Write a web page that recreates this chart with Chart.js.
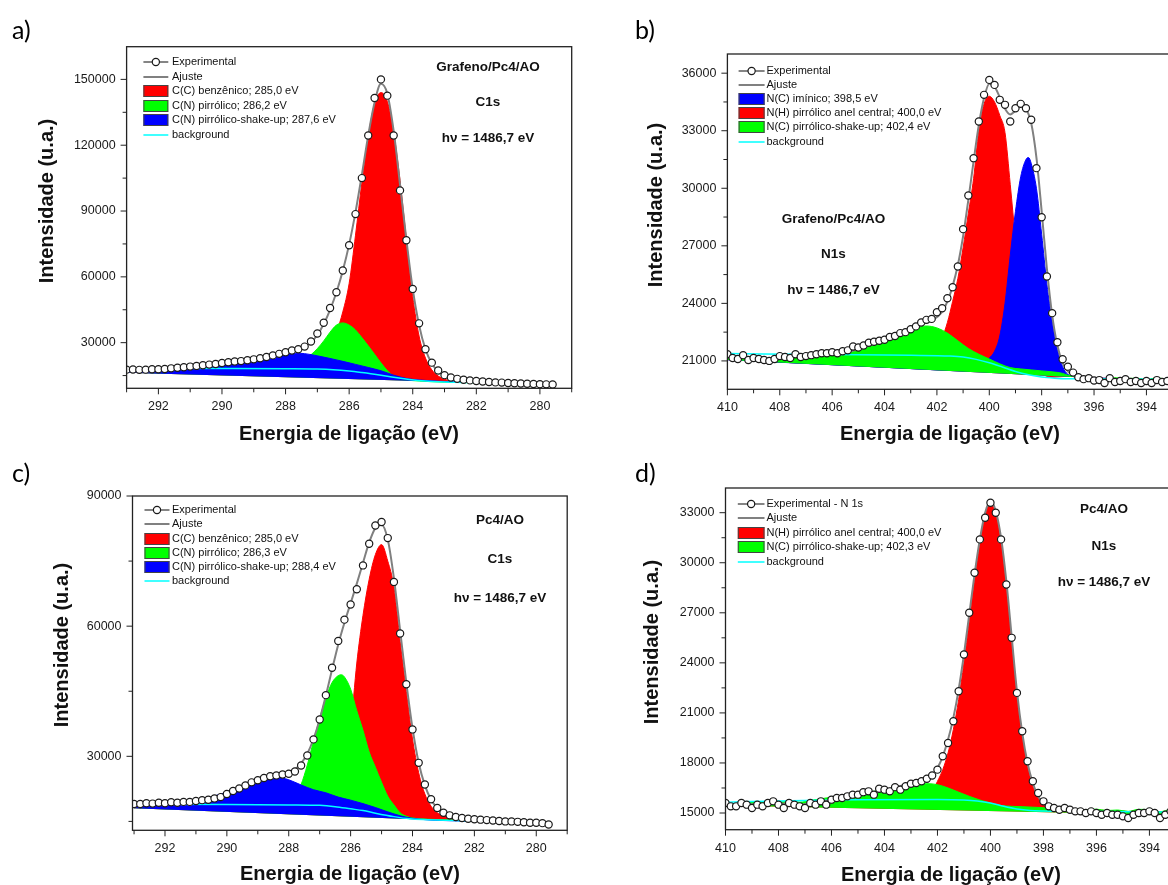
<!DOCTYPE html>
<html lang="pt">
<head>
<meta charset="utf-8">
<title>XPS C1s / N1s - Grafeno/Pc4/AO e Pc4/AO</title>
<script src="https://cdn.jsdelivr.net/npm/chart.js@4.4.1/dist/chart.umd.min.js"></script>
<style>
  html, body { margin: 0; padding: 0; background: #fff; overflow: hidden; }
  body { width: 1168px; height: 885px; position: relative; }
  .panel { position: absolute; }
  .tag { position: absolute; font-family: Lato, "Open Sans", sans-serif; font-size: 25px; line-height: 1; color: #000; }
</style>
</head>
<body>
<div class="panel" style="left:0;top:0"><canvas id="chartA" width="584" height="462"></canvas></div>
<div class="panel" style="left:584px;top:0"><canvas id="chartB" width="640" height="462"></canvas></div>
<div class="panel" style="left:0;top:442px"><canvas id="chartC" width="584" height="443"></canvas></div>
<div class="panel" style="left:584px;top:442px"><canvas id="chartD" width="640" height="443"></canvas></div>
<div class="tag" style="left:12px;top:17px">a)</div>
<div class="tag" style="left:635px;top:17px">b)</div>
<div class="tag" style="left:12px;top:460px">c)</div>
<div class="tag" style="left:635px;top:460px">d)</div>

<script>
// ================== DATA (energia em eV, intensidade em u.a.) ==================

// ---- a) Grafeno/Pc4/AO  C1s ----
const aExp = [
  [293.0,17700],[292.8,17800],[292.6,17600],[292.4,17700],[292.2,17900],[292.0,17900],[291.8,18000],
  [291.6,18300],[291.4,18600],[291.2,18800],[291.0,19100],[290.8,19400],[290.6,19700],[290.4,20000],
  [290.2,20300],[290.0,20700],[289.8,21100],[289.6,21400],[289.4,21600],[289.2,22000],[289.0,22400],
  [288.8,22900],[288.6,23500],[288.4,24200],[288.2,24900],[288.0,25600],[287.8,26400],[287.6,27000],
  [287.4,28200],[287.2,30500],[287.0,34200],[286.8,39100],[286.6,45800],[286.4,53000],[286.2,62900],
  [286.0,74400],[285.8,88600],[285.6,105000],[285.4,124400],[285.2,141500],[285.0,150000],[284.8,142600],
  [284.6,124400],[284.4,99400],[284.2,76700],[284.0,54500],[283.8,38800],[283.6,27000],[283.4,20900],
  [283.2,17300],[283.0,15200],[282.8,14100],[282.6,13500],[282.4,13100],[282.2,12800],[282.0,12500],
  [281.8,12300],[281.6,12100],[281.4,11900],[281.2,11800],[281.0,11600],[280.8,11500],[280.6,11400],
  [280.4,11300],[280.2,11200],[280.0,11100],[279.8,11000],[279.6,10900]
];
const aFit = [
  [293.0,17800],[292.0,18000],[291.0,19000],[290.5,19800],[290.0,20600],[289.5,21400],[289.0,22400],
  [288.5,23700],[288.0,25300],[287.6,26900],[287.4,28200],[287.2,30200],[287.0,33500],[286.8,38500],
  [286.6,45000],[286.4,53000],[286.2,62800],[286.0,74800],[285.8,89500],[285.6,106500],[285.4,124500],
  [285.2,139500],[285.0,148000],[284.8,143500],[284.6,126500],[284.4,102000],[284.2,77000],[284.0,54500],
  [283.8,38000],[283.6,27000],[283.4,20500],[283.2,17000],[283.0,15100],[282.6,13400],[282.0,12400],
  [281.0,11600],[280.0,11100],[279.6,10900]
];
const aRed = [
  [293.0,17100],[290.0,17200],[288.0,17300],[287.0,18500],[286.8,21000],[286.6,26500],[286.4,34500],
  [286.2,44000],[286.0,57000],[285.8,79000],[285.6,103000],[285.4,124000],[285.2,139000],[285.0,144000],
  [284.8,140000],[284.6,126000],[284.4,104000],[284.2,77000],[284.0,51000],[283.8,33000],[283.6,23000],
  [283.4,17600],[283.2,14800],[283.0,13300],[282.6,12300],[282.0,11800],[281.0,11400],[279.6,10950]
];
const aGreen = [
  [293.0,17100],[290.0,17300],[289.0,17700],[288.5,18400],[288.0,19400],[287.6,21000],[287.4,22500],
  [287.2,24500],[287.0,27300],[286.8,30800],[286.6,34800],[286.4,38000],[286.2,39000],[286.0,38000],
  [285.8,35800],[285.6,32300],[285.4,28600],[285.2,24700],[285.0,20800],[284.8,17300],[284.6,14700],
  [284.4,13400],[284.0,12700],[283.0,12000],[281.0,11400],[279.6,10950]
];
const aBlue = [
  [293.0,18000],[292.0,18200],[291.0,19000],[290.5,19700],[290.0,20400],[289.5,21200],[289.0,22200],
  [288.5,23400],[288.0,24600],[287.7,25200],[287.4,25000],[287.0,24000],[286.6,22800],[286.2,21500],
  [285.8,20100],[285.4,18700],[285.0,17200],[284.6,15200],[284.2,13700],[283.8,13000],[283.4,12600],
  [283.0,12300],[282.0,11900],[281.0,11500],[279.6,10950]
];
const aBg = [
  [293.0,18300],[290.0,18250],[288.0,18150],[287.0,18000],[286.5,17700],[286.0,17100],[285.6,16400],
  [285.1,15400],[284.6,14200],[284.1,13200],[283.6,12500],[283.0,12100],[282.0,11800],[281.0,11500],
  [279.6,11100]
];
const aBase = [[293.0,16300],[279.6,10850]];
const aXTicks = [292, 290, 288, 286, 284, 282, 280];
const aYTicks = [30000, 60000, 90000, 120000, 150000];

// ---- b) Grafeno/Pc4/AO  N1s ----
const bExp = [
  [410.0,21350],[409.8,21150],[409.6,21100],[409.4,21300],[409.2,21050],[409.0,21150],[408.8,21100],
  [408.6,21050],[408.4,21000],[408.2,21100],[408.0,21250],[407.8,21200],[407.6,21150],[407.4,21350],
  [407.2,21200],[407.0,21250],[406.8,21300],[406.6,21350],[406.4,21400],[406.2,21400],[406.0,21450],
  [405.8,21400],[405.6,21500],[405.4,21550],[405.2,21750],[405.0,21700],[404.8,21800],[404.6,21950],
  [404.4,22000],[404.2,22050],[404.0,22100],[403.8,22250],[403.6,22300],[403.4,22450],[403.2,22500],
  [403.0,22650],[402.8,22800],[402.6,23000],[402.4,23140],[402.2,23190],[402.0,23540],[401.8,23750],
  [401.6,24270],[401.4,24840],[401.2,25920],[401.0,27870],[400.8,29620],[400.6,31570],[400.4,33480],
  [400.2,34870],[400.0,35650],[399.8,35390],[399.6,34610],[399.4,34350],[399.2,33480],[399.0,34170],
  [398.8,34400],[398.6,34170],[398.4,33570],[398.2,31050],[398.0,28490],[397.8,25400],[397.6,23490],
  [397.4,21970],[397.2,21090],[397.0,20700],[396.8,20390],[396.6,20150],[396.4,20050],[396.2,20100],
  [396.0,19980],[395.8,20000],[395.6,19850],[395.4,20100],[395.2,19900],[395.0,19950],[394.8,20050],
  [394.6,19900],[394.4,19950],[394.2,19850],[394.0,19950],[393.8,19850],[393.6,20000],[393.4,19900],
  [393.2,19950],[393.0,19900],[392.8,19950],[392.6,19850],[392.4,19900],[392.2,19950],[392.0,19900]
];
const bFit = [
  [410.0,21350],[409.6,21200],[409.2,21150],[408.8,21200],[408.4,21100],[408.0,21250],[407.6,21200],
  [407.2,21250],[406.8,21300],[406.4,21350],[406.0,21400],[405.5,21450],[405.0,21600],[404.5,21850],
  [404.0,22100],[403.5,22400],[403.0,22700],[402.6,22900],[402.2,23100],[401.8,23550],[401.6,24100],
  [401.4,24900],[401.2,26000],[401.0,27500],[400.8,29400],[400.6,31400],[400.4,33300],[400.2,34700],
  [400.0,35450],[399.8,35300],[399.6,34750],[399.4,34150],[399.2,33850],[399.0,34050],[398.8,34300],
  [398.6,34150],[398.4,33400],[398.2,31600],[398.0,28800],[397.8,25800],[397.6,23400],[397.4,21800],
  [397.2,20900],[397.0,20450],[396.8,20250],[396.6,20150],[396.4,20100],[396.2,20150],[396.0,20050],
  [395.8,20100],[395.6,19950],[395.4,20150],[395.2,20000],[395.0,20050],[394.8,20100],[394.6,20000],
  [394.4,20050],[394.2,19950],[394.0,20050],[393.8,19950],[393.6,20100],[393.4,20000],[393.2,20050],
  [393.0,20000],[392.6,19950],[392.0,20000]
];
const bBlue = [
  [410.0,21060],[406.0,20800],[403.0,20600],[402.0,20530],[401.0,20480],[400.4,20800],[400.0,21150],
  [399.8,21500],[399.6,22300],[399.4,24000],[399.2,26500],[399.0,28800],[398.8,30600],[398.6,31500],
  [398.5,31600],[398.4,31300],[398.2,30000],[398.0,27600],[397.8,25000],[397.6,23100],[397.4,21600],
  [397.2,20700],[397.0,20300],[396.8,20200],[396.4,20150],[395.0,20060],[392.0,19850]
];
const bRed = [
  [410.0,21070],[406.0,20900],[404.0,20900],[403.0,21000],[402.4,21300],[402.0,21750],[401.8,22200],
  [401.6,23000],[401.4,24100],[401.2,25300],[401.0,26900],[400.8,28700],[400.6,30500],[400.4,33000],
  [400.2,34400],[400.0,34800],[399.8,34500],[399.6,33800],[399.4,32900],[399.2,30200],[399.0,27300],
  [398.8,24500],[398.6,22600],[398.4,21400],[398.2,20700],[398.0,20350],[397.6,20150],[397.0,20200],
  [396.0,20120],[392.0,19860]
];
const bGreen = [
  [410.0,21350],[409.6,21200],[409.2,21150],[408.8,21200],[408.4,21100],[408.0,21250],[407.6,21200],
  [407.2,21250],[406.8,21300],[406.4,21350],[406.0,21380],[405.6,21450],[405.2,21550],[404.8,21650],
  [404.4,21800],[404.0,22000],[403.6,22250],[403.2,22500],[402.8,22700],[402.4,22820],[402.0,22720],
  [401.6,22450],[401.2,22050],[400.8,21650],[400.4,21350],[400.0,21100],[399.6,20850],[399.2,20650],
  [398.8,20580],[398.4,20530],[398.0,20480],[397.6,20430],[397.2,20350],[397.0,20250],[396.8,20200],
  [396.4,20130],[396.0,20080],[395.6,20000],[395.2,20120],[394.8,20080],[394.4,20100],[394.0,20020],
  [393.6,20120],[393.2,20050],[392.8,20080],[392.4,20030],[392.0,20050]
];
const bBg = [
  [410.0,21380],[406.0,21330],[403.0,21290],[401.5,21250],[401.0,21200],[400.5,21080],[400.0,20900],
  [399.5,20680],[399.0,20450],[398.5,20280],[398.0,20160],[397.5,20100],[397.0,20070],[392.0,20040]
];
const bBase = [[410.0,21050],[392.0,19840]];
const bXTicks = [410, 408, 406, 404, 402, 400, 398, 396, 394, 392];
const bYTicks = [21000, 24000, 27000, 30000, 33000, 36000];

// ---- c) Pc4/AO  C1s ----
const cExp = [
  [293.0,19000],[292.8,19000],[292.6,19200],[292.4,19100],[292.2,19300],[292.0,19200],[291.8,19400],
  [291.6,19300],[291.4,19500],[291.2,19500],[291.0,19700],[290.8,19900],[290.6,20000],[290.4,20300],
  [290.2,20600],[290.0,21300],[289.8,22000],[289.6,22600],[289.4,23300],[289.2,24000],[289.0,24500],
  [288.8,25000],[288.6,25400],[288.4,25600],[288.2,25800],[288.0,26000],[287.8,26500],[287.6,27900],
  [287.4,30200],[287.2,33900],[287.0,38500],[286.8,44100],[286.6,50400],[286.4,56600],[286.2,61500],
  [286.0,65000],[285.8,68500],[285.6,74000],[285.4,79000],[285.2,83200],[285.0,84000],[284.8,80300],
  [284.6,70200],[284.4,58300],[284.2,46600],[284.0,36200],[283.8,28500],[283.6,23500],[283.4,20100],
  [283.2,18100],[283.0,17000],[282.8,16400],[282.6,16000],[282.4,15800],[282.2,15600],[282.0,15500],
  [281.8,15400],[281.6,15300],[281.4,15200],[281.2,15100],[281.0,15000],[280.8,15000],[280.6,14900],
  [280.4,14800],[280.2,14700],[280.0,14700],[279.8,14600],[279.6,14300]
];
const cFit = [
  [293.0,19000],[292.0,19250],[291.0,19700],[290.5,20200],[290.0,21100],[289.5,22700],[289.0,24300],
  [288.6,25200],[288.2,25800],[288.0,26200],[287.8,27000],[287.6,28400],[287.4,30600],[287.2,34000],
  [287.0,38500],[286.8,44000],[286.6,50000],[286.4,55800],[286.2,60800],[286.0,65300],[285.8,69800],
  [285.6,74600],[285.4,79300],[285.2,82600],[285.0,83400],[284.8,80000],[284.6,71000],[284.4,59000],
  [284.2,47000],[284.0,36500],[283.8,28500],[283.6,23300],[283.4,20000],[283.2,18100],[283.0,17000],
  [282.6,16000],[282.0,15500],[281.0,15000],[280.0,14650],[279.6,14400]
];
const cRed = [
  [293.0,18250],[289.0,17700],[287.5,17300],[287.0,17500],[286.6,18800],[286.4,21500],[286.2,27500],
  [286.0,36500],[285.8,51500],[285.6,62500],[285.4,70800],[285.2,76500],[285.0,78800],[284.8,75000],
  [284.6,69000],[284.4,56500],[284.2,45000],[284.0,34000],[283.8,26200],[283.6,21300],[283.4,18500],
  [283.2,17000],[283.0,16300],[282.6,15800],[282.0,15500],[281.0,15000],[279.6,14400]
];
const cGreen = [
  [293.0,18250],[290.0,18000],[289.0,18000],[288.5,18300],[288.0,19300],[287.8,20800],[287.6,23500],
  [287.4,28000],[287.2,33500],[287.0,38800],[286.8,43500],[286.6,47000],[286.4,48600],[286.3,48800],
  [286.2,48300],[286.0,45500],[285.8,40500],[285.6,36000],[285.4,31000],[285.2,27500],[285.0,24000],
  [284.8,20800],[284.6,18800],[284.4,17000],[284.2,16200],[284.0,15800],[283.5,15500],[283.0,15400],
  [279.6,14400]
];
const cBlue = [
  [293.0,19100],[292.0,19300],[291.0,19900],[290.5,20700],[290.0,21700],[289.5,23000],[289.0,24300],
  [288.5,25200],[288.2,25000],[288.0,24600],[287.6,23400],[287.2,22300],[286.8,21600],[286.4,20600],
  [286.0,19900],[285.6,19100],[285.2,18200],[284.8,17200],[284.4,16300],[284.0,15700],[283.5,15350],
  [283.0,15200],[282.0,15000],[281.0,14800],[279.6,14400]
];
const cBg = [
  [293.0,19000],[290.0,18900],[288.0,18800],[287.0,18700],[286.5,18400],[286.0,17900],[285.6,17500],
  [285.2,16900],[284.6,16100],[284.1,15600],[283.5,15400],[282.0,15100],[281.0,14850],[279.6,14550]
];
const cBase = [[293.0,18050],[279.6,14300]];
const cXTicks = [292, 290, 288, 286, 284, 282, 280];
const cYTicks = [30000, 60000, 90000];

// ---- d) Pc4/AO  N1s ----
const dExp = [
  [410.0,15600],[409.8,15400],[409.6,15400],[409.4,15600],[409.2,15500],[409.0,15300],[408.8,15500],
  [408.6,15400],[408.4,15600],[408.2,15700],[408.0,15500],[407.8,15300],[407.6,15600],[407.4,15500],
  [407.2,15400],[407.0,15300],[406.8,15600],[406.6,15500],[406.4,15700],[406.2,15500],[406.0,15800],
  [405.8,15900],[405.6,15900],[405.4,16000],[405.2,16100],[405.0,16100],[404.8,16250],[404.6,16300],
  [404.4,16100],[404.2,16450],[404.0,16400],[403.8,16300],[403.6,16550],[403.4,16400],[403.2,16600],
  [403.0,16750],[402.8,16800],[402.6,16900],[402.4,17050],[402.2,17250],[402.0,17600],[401.8,18400],
  [401.6,19200],[401.4,20500],[401.2,22300],[401.0,24500],[400.8,27000],[400.6,29400],[400.4,31400],
  [400.2,32700],[400.0,33600],[399.8,33000],[399.6,31400],[399.4,28700],[399.2,25500],[399.0,22200],
  [398.8,19900],[398.6,18100],[398.4,16900],[398.2,16200],[398.0,15700],[397.8,15400],[397.6,15300],
  [397.4,15200],[397.2,15300],[397.0,15200],[396.8,15100],[396.6,15100],[396.4,15000],[396.2,15100],
  [396.0,15000],[395.8,14900],[395.6,15000],[395.4,14900],[395.2,14900],[395.0,14800],[394.8,14700],
  [394.6,14900],[394.4,15000],[394.2,15000],[394.0,15100],[393.8,15000],[393.6,14700],[393.4,14900],
  [393.2,15100],[393.0,15000],[392.8,15000],[392.6,14900],[392.4,15000],[392.2,15100],[392.0,15000]
];
const dFit = [
  [410.0,15600],[409.6,15450],[409.2,15550],[408.8,15500],[408.4,15600],[408.0,15550],[407.6,15600],
  [407.2,15500],[406.8,15600],[406.4,15700],[406.0,15750],[405.6,15850],[405.2,15950],[404.8,16100],
  [404.4,16250],[404.0,16400],[403.6,16550],[403.2,16700],[402.8,16850],[402.4,17050],[402.2,17300],
  [402.0,17700],[401.8,18400],[401.6,19400],[401.4,20700],[401.2,22400],[401.0,24500],[400.8,26900],
  [400.6,29300],[400.4,31400],[400.2,33000],[400.0,33700],[399.8,33100],[399.6,31500],[399.4,28900],
  [399.2,25600],[399.0,22300],[398.8,19800],[398.6,18000],[398.4,16800],[398.2,16000],[398.0,15600],
  [397.8,15400],[397.6,15300],[397.2,15300],[396.8,15150],[396.4,15050],[396.0,15100],[395.6,15000],
  [395.2,14950],[394.8,14850],[394.4,15050],[394.0,15100],[393.6,14850],[393.2,15050],[392.8,15000],
  [392.4,15000],[392.0,15050]
];
const dRed = [
  [410.0,15500],[404.0,15550],[403.0,15600],[402.6,15800],[402.2,16300],[402.0,16900],[401.8,17600],
  [401.6,18600],[401.4,20000],[401.2,21800],[401.0,24000],[400.8,26500],[400.6,29000],[400.4,31200],
  [400.2,33000],[400.0,33500],[399.8,33000],[399.6,31300],[399.4,28600],[399.2,25400],[399.0,22100],
  [398.8,19700],[398.6,17900],[398.4,16600],[398.2,15900],[398.0,15500],[397.8,15350],[397.5,15300],
  [397.0,15250],[392.0,14900]
];
const dGreen = [
  [410.0,15600],[409.6,15550],[409.2,15650],[408.8,15700],[408.4,15600],[408.0,15650],[407.6,15700],
  [407.2,15650],[406.8,15750],[406.4,15850],[406.0,15950],[405.6,16000],[405.2,16100],[404.8,16200],
  [404.4,16300],[404.0,16420],[403.6,16530],[403.2,16640],[402.8,16720],[402.4,16760],[402.0,16700],
  [401.6,16500],[401.2,16250],[400.8,16000],[400.4,15780],[400.0,15600],[399.6,15450],[399.2,15400],
  [398.8,15380],[398.4,15350],[398.0,15320],[397.6,15300],[397.2,15280],[396.8,15250],[396.4,15200],
  [396.0,15230],[395.6,15150],[395.2,15180],[394.8,15100],[394.4,15220],[394.0,15200],[393.6,15080],
  [393.2,15200],[392.8,15150],[392.4,15150],[392.0,15150]
];
const dBg = [
  [410.0,15650],[407.0,15750],[405.0,15800],[402.0,15810],[401.0,15780],[400.5,15720],[400.0,15600],
  [399.5,15400],[399.0,15240],[398.5,15150],[398.0,15120],[397.0,15100],[392.0,15050]
];
const dBase = [[410.0,15450],[392.0,14850]];
const dXTicks = [410, 408, 406, 404, 402, 400, 398, 396, 394, 392];
const dYTicks = [15000, 18000, 21000, 24000, 27000, 30000, 33000];

// ================== HELPERS ==================
const RED = '#ff0000', GREEN = '#00ff00', BLUE = '#0000ff', CYAN = '#00ffff', GRAY = '#808080';
const SANS = '"Liberation Sans", Arial, sans-serif';

const pts = arr => arr.map(([x, y]) => ({ x, y }));

function expSet(data) {
  return { data: pts(data), showLine: false, pointRadius: 3.6, pointBorderWidth: 1.2,
           pointBorderColor: '#1a1a1a', pointBackgroundColor: '#ffffff' };
}
function lineSet(data, color, width) {
  return { data: pts(data), borderColor: color, borderWidth: width, pointRadius: 0,
           fill: false, cubicInterpolationMode: 'monotone' };
}
function peakSet(data, color, baseIndex) {
  return { data: pts(data), borderColor: color, borderWidth: 1, pointRadius: 0,
           backgroundColor: color, fill: { target: baseIndex }, cubicInterpolationMode: 'monotone' };
}

// frame, tick marks, axis titles, legend and labels
function decorPlugin(p) {
  return {
    id: 'decor',
    afterDraw(chart) {
      const { ctx, chartArea: a, scales: { x, y } } = chart;
      ctx.save();
      ctx.strokeStyle = '#222';
      ctx.lineWidth = 1.3;
      ctx.strokeRect(a.left, a.top, a.right - a.left, a.bottom - a.top);

      // x ticks (major labelled every 2 eV, minor in between)
      ctx.lineWidth = 1;
      for (let e = Math.ceil(x.min); e <= x.max; e++) {
        const px = x.getPixelForValue(e);
        const len = p.xTicks.includes(e) ? 6 : 4;
        ctx.beginPath(); ctx.moveTo(px, a.bottom); ctx.lineTo(px, a.bottom + len); ctx.stroke();
      }
      // y ticks
      const step = p.yTicks[1] - p.yTicks[0];
      for (let v = p.yTicks[0] - step; v <= y.max; v += step / 2) {
        if (v < y.min) continue;
        const py = y.getPixelForValue(v);
        const len = p.yTicks.includes(v) ? 6 : 4;
        ctx.beginPath(); ctx.moveTo(a.left - len, py); ctx.lineTo(a.left, py); ctx.stroke();
      }

      // axis titles
      ctx.fillStyle = '#111';
      ctx.font = 'bold 20px ' + SANS;
      ctx.textAlign = 'center';
      ctx.textBaseline = 'alphabetic';
      ctx.fillText('Energia de ligação (eV)', p.xTitle[0], p.xTitle[1]);
      ctx.save();
      ctx.translate(p.yTitle[0], p.yTitle[1]);
      ctx.rotate(-Math.PI / 2);
      ctx.textBaseline = 'middle';
      ctx.fillText('Intensidade (u.a.)', 0, 0);
      ctx.restore();

      // legend
      const [x0, x1, tx] = p.legendX;
      ctx.textAlign = 'left';
      ctx.textBaseline = 'middle';
      ctx.font = '11px ' + SANS;
      p.legend.forEach((item, i) => {
        const ly = p.legendY[i];
        if (item.kind === 'exp') {
          ctx.strokeStyle = '#333'; ctx.lineWidth = 1.2;
          ctx.beginPath(); ctx.moveTo(x0, ly); ctx.lineTo(x1, ly); ctx.stroke();
          ctx.beginPath(); ctx.arc((x0 + x1) / 2, ly, 3.6, 0, Math.PI * 2);
          ctx.fillStyle = '#fff'; ctx.fill(); ctx.strokeStyle = '#1a1a1a'; ctx.lineWidth = 1.2; ctx.stroke();
        } else if (item.kind === 'line') {
          ctx.strokeStyle = item.color; ctx.lineWidth = item.color === CYAN ? 1.5 : 2;
          ctx.beginPath(); ctx.moveTo(x0, ly); ctx.lineTo(x1, ly); ctx.stroke();
        } else {
          ctx.fillStyle = item.color;
          ctx.fillRect(x0, ly - 6, x1 - x0, 12);
          ctx.strokeStyle = '#444'; ctx.lineWidth = 1;
          ctx.strokeRect(x0 + 0.5, ly - 5.5, x1 - x0 - 1, 11);
        }
        ctx.fillStyle = '#111';
        ctx.fillText(item.text, tx, ly);
      });

      // sample / region labels
      ctx.textAlign = 'center';
      ctx.font = 'bold 13.5px ' + SANS;
      p.notes.forEach((t, i) => ctx.fillText(t, p.notesX, p.notesY[i]));
      ctx.restore();
    }
  };
}

function makeChart(id, p) {
  const base = p.sets.length;
  const datasets = [
    expSet(p.exp),
    lineSet(p.fit, GRAY, 2),
    lineSet(p.bg, CYAN, 1.5),
    ...p.sets.map(([d, c]) => peakSet(d, c, base + 3)),
    { data: pts(p.base), borderColor: 'rgba(0,0,0,0)', borderWidth: 0, pointRadius: 0, fill: false }
  ];
  const tickFont = { family: SANS, size: 12.5 };
  return new Chart(document.getElementById(id), {
    type: 'line',
    data: { datasets },
    options: {
      responsive: false,
      maintainAspectRatio: false,
      animation: false,
      events: [],
      layout: { autoPadding: false, padding: { top: p.area.top, right: p.area.padRight, left: 0, bottom: 0 } },
      plugins: { legend: { display: false }, tooltip: { enabled: false } },
      scales: {
        x: {
          type: 'linear', reverse: true, min: p.xRange[0], max: p.xRange[1],
          afterBuildTicks: s => { s.ticks = p.xTicks.map(v => ({ value: v })); },
          afterFit: s => { s.height = p.area.xHeight; },
          grid: { display: false, drawTicks: false }, border: { display: false },
          ticks: { autoSkip: false, maxRotation: 0, padding: 11, color: '#1a1a1a', font: tickFont,
                   callback: v => String(v) }
        },
        y: {
          type: 'linear', min: p.yRange[0], max: p.yRange[1],
          afterBuildTicks: s => { s.ticks = p.yTicks.map(v => ({ value: v })); },
          afterFit: s => { s.width = p.area.left; },
          grid: { display: false, drawTicks: false }, border: { display: false },
          ticks: { autoSkip: false, padding: 11, color: '#1a1a1a', font: tickFont,
                   callback: v => String(v) }
        }
      }
    },
    plugins: [decorPlugin(p)]
  });
}

// ================== PANELS ==================
makeChart('chartA', {
  exp: aExp, fit: aFit, bg: aBg, base: aBase,
  sets: [[aBlue, BLUE], [aGreen, GREEN], [aRed, RED]],
  xRange: [279, 293], yRange: [9200, 164900], xTicks: aXTicks, yTicks: aYTicks,
  area: { left: 126.6, top: 46.7, padRight: 584 - 571.7, xHeight: 462 - 388.3 },
  xTitle: [349, 440], yTitle: [47.5, 201],
  legendX: [143.4, 168.3, 172], legendY: [62, 77, 91, 106, 120, 135],
  legend: [
    { kind: 'exp', text: 'Experimental' },
    { kind: 'line', color: GRAY, text: 'Ajuste' },
    { kind: 'box', color: RED, text: 'C(C) benzênico; 285,0 eV' },
    { kind: 'box', color: GREEN, text: 'C(N) pirrólico; 286,2 eV' },
    { kind: 'box', color: BLUE, text: 'C(N) pirrólico-shake-up; 287,6 eV' },
    { kind: 'line', color: CYAN, text: 'background' }
  ],
  notes: ['Grafeno/Pc4/AO', 'C1s', 'hν = 1486,7 eV'], notesX: 488, notesY: [67, 102, 138]
});

makeChart('chartB', {
  exp: bExp, fit: bFit, bg: bBg, base: bBase,
  sets: [[bGreen, GREEN], [bBlue, BLUE], [bRed, RED]],
  xRange: [392, 410], yRange: [19520, 37000], xTicks: bXTicks, yTicks: bYTicks,
  area: { left: 143.4, top: 54, padRight: 640 - 614.8, xHeight: 462 - 389.3 },
  xTitle: [366, 440], yTitle: [72, 205],
  legendX: [154.6, 180.6, 182.5], legendY: [71, 85, 99, 113, 127, 142],
  legend: [
    { kind: 'exp', text: 'Experimental' },
    { kind: 'line', color: GRAY, text: 'Ajuste' },
    { kind: 'box', color: BLUE, text: 'N(C) imínico; 398,5 eV' },
    { kind: 'box', color: RED, text: 'N(H) pirrólico anel central; 400,0 eV' },
    { kind: 'box', color: GREEN, text: 'N(C) pirrólico-shake-up; 402,4 eV' },
    { kind: 'line', color: CYAN, text: 'background' }
  ],
  notes: ['Grafeno/Pc4/AO', 'N1s', 'hν = 1486,7 eV'], notesX: 249.5, notesY: [219, 254, 290]
});

makeChart('chartC', {
  exp: cExp, fit: cFit, bg: cBg, base: cBase,
  sets: [[cBlue, BLUE], [cGreen, GREEN], [cRed, RED]],
  xRange: [279, 293.05], yRange: [12950, 90000], xTicks: cXTicks, yTicks: cYTicks,
  area: { left: 132.5, top: 54, padRight: 584 - 567.2, xHeight: 443 - 388.3 },
  xTitle: [350, 438], yTitle: [62.5, 203],
  legendX: [144.5, 169.5, 172], legendY: [68, 82, 97, 111, 125, 139],
  legend: [
    { kind: 'exp', text: 'Experimental' },
    { kind: 'line', color: GRAY, text: 'Ajuste' },
    { kind: 'box', color: RED, text: 'C(C) benzênico; 285,0 eV' },
    { kind: 'box', color: GREEN, text: 'C(N) pirrólico; 286,3 eV' },
    { kind: 'box', color: BLUE, text: 'C(N) pirrólico-shake-up; 288,4 eV' },
    { kind: 'line', color: CYAN, text: 'background' }
  ],
  notes: ['Pc4/AO', 'C1s', 'hν = 1486,7 eV'], notesX: 500, notesY: [78, 117, 156]
});

makeChart('chartD', {
  exp: dExp, fit: dFit, bg: dBg, base: dBase,
  sets: [[dGreen, GREEN], [dRed, RED]],
  xRange: [392, 410], yRange: [14000, 34480], xTicks: dXTicks, yTicks: dYTicks,
  area: { left: 141.5, top: 46, padRight: 640 - 618.4, xHeight: 443 - 387.7 },
  xTitle: [367, 439], yTitle: [68, 200],
  legendX: [153.8, 180.5, 182.5], legendY: [62, 76, 91, 105, 120],
  legend: [
    { kind: 'exp', text: 'Experimental - N 1s' },
    { kind: 'line', color: GRAY, text: 'Ajuste' },
    { kind: 'box', color: RED, text: 'N(H) pirrólico anel central; 400,0 eV' },
    { kind: 'box', color: GREEN, text: 'N(C) pirrólico-shake-up; 402,3 eV' },
    { kind: 'line', color: CYAN, text: 'background' }
  ],
  notes: ['Pc4/AO', 'N1s', 'hν = 1486,7 eV'], notesX: 520, notesY: [67, 104, 140]
});
</script>
</body>
</html>
